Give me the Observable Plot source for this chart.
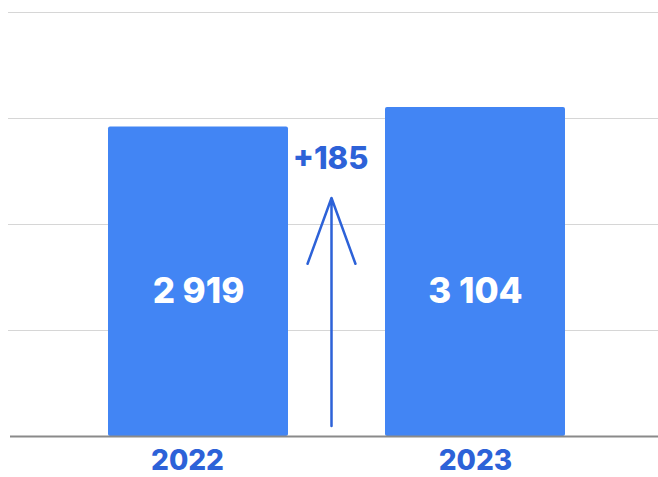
<!DOCTYPE html>
<html>
<head>
<meta charset="utf-8">
<script src="https://cdn.jsdelivr.net/npm/d3@7"></script>
<script src="https://cdn.jsdelivr.net/npm/@observablehq/plot@0.6"></script>
<style>
  html, body { margin: 0; padding: 0; background: #fff; }
  #chart svg { display: block; }
</style>
</head>
<body>
<div id="chart"></div>
<script>
// Data
const years = ["2022", "2023"];
const values = [2919, 3104];
const gridTicks = [1000, 2000, 3000, 4000];
// Annotation arrow (value-scale extent: tail, tip)
const arrowExtent = [100, 2250];

const barColor = "#4285f4";
const textColor = "#2d62d8";
const font = "Inter, 'Open Sans', sans-serif";

const data = years.map((y, i) => ({year: y, value: values[i]}));
const fmt = v => d3.format(",")(v).replace(/,/g, " ");
const delta = values[1] - values[0];

const axisStyle = {
  tickSize: 0, tickPadding: 14, fontSize: 28, fontWeight: 800,
  fill: textColor, fontFamily: font, label: null
};

const chart = Plot.plot({
  width: 658,
  height: 477,
  marginTop: 12,
  marginBottom: 41,
  marginLeft: 8,
  marginRight: 0,
  style: {fontFamily: font, background: "#fff"},
  x: {domain: years, range: [108, 566], paddingInner: 0.35, paddingOuter: 0, label: null},
  y: {domain: [0, 4000], axis: null},
  marks: [
    Plot.ruleY(gridTicks, {stroke: "#d6d6d6", strokeWidth: 1.2}),
    Plot.barY(data, {x: "year", y: "value", fill: barColor, rx: 2}),
    Plot.ruleY([0], {stroke: "#8a8a8a", strokeWidth: 2, insetLeft: 2}),
    Plot.text(data, {
      x: "year", text: d => fmt(d.value), frameAnchor: "bottom", lineAnchor: "middle", dy: -145,
      fill: "white", fontSize: 35, fontWeight: 800, fontFamily: font
    }),
    Plot.arrow([delta], {
      x: () => years[0], y1: () => arrowExtent[0], y2: () => arrowExtent[1],
      dx: 133, stroke: textColor, strokeWidth: 2.5, headAngle: 40, headLength: 42
    }),
    Plot.text([delta], {
      x: () => years[0], y: () => values[0], text: d => "+" + d, dx: 132, dy: 32,
      fill: textColor, fontSize: 31, fontWeight: 800, fontFamily: font
    }),
    Plot.axisX({...axisStyle, ticks: [years[0]], dx: -11}),
    Plot.axisX({...axisStyle, ticks: [years[1]]})
  ]
});
document.getElementById("chart").append(chart);
</script>
</body>
</html>
